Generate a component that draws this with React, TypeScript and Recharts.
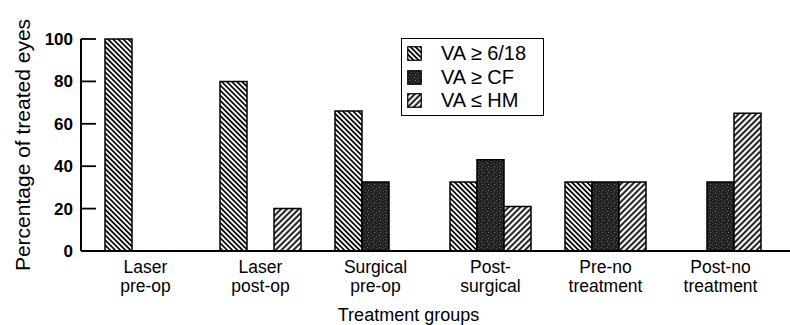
import { BarChart, Bar, XAxis, YAxis, Legend } from 'recharts';

const CATEGORIES = [
  'Laser\npre-op',
  'Laser\npost-op',
  'Surgical\npre-op',
  'Post-\nsurgical',
  'Pre-no\ntreatment',
  'Post-no\ntreatment',
];
const VA_GOOD = [100, 80, 66, 32.5, 32.5, null];
const VA_CF = [null, null, 32.5, 43, 32.5, 32.5];
const VA_HM = [null, 20, null, 21, 32.5, 65];
const Y_TICKS = [0, 20, 40, 60, 80, 100];

const SERIES = [
  { key: 'good', label: 'VA ≥ 6/18', fill: 'url(#hatchDown)' },
  { key: 'cf', label: 'VA ≥ CF', fill: 'url(#stipple)' },
  { key: 'hm', label: 'VA ≤ HM', fill: 'url(#hatchUp)' },
];

const data = CATEGORIES.map((name, i) => ({
  name,
  good: VA_GOOD[i],
  cf: VA_CF[i],
  hm: VA_HM[i],
}));

const FONT = '"Liberation Sans", Arial, Helvetica, sans-serif';

function Patterns() {
  return (
    <defs>
      <pattern id="hatchDown" patternUnits="userSpaceOnUse" width="3.6" height="3.6" patternTransform="rotate(-45)">
        <rect width="3.6" height="3.6" fill="#fff" />
        <line x1="1.8" y1="0" x2="1.8" y2="3.6" stroke="#000" strokeWidth="1.7" />
      </pattern>
      <pattern id="hatchUp" patternUnits="userSpaceOnUse" width="4.2" height="4.2" patternTransform="rotate(45)">
        <rect width="4.2" height="4.2" fill="#fff" />
        <line x1="2.1" y1="0" x2="2.1" y2="4.2" stroke="#000" strokeWidth="1.8" />
      </pattern>
      <pattern id="stipple" patternUnits="userSpaceOnUse" width="6" height="6">
        <rect width="6" height="6" fill="#222" />
        <rect x="1" y="1" width="1" height="1" fill="#6a6a6a" />
        <rect x="4" y="2" width="1" height="1" fill="#555" />
        <rect x="2" y="4" width="1" height="1" fill="#777" />
        <rect x="5" y="5" width="1" height="1" fill="#4a4a4a" />
      </pattern>
    </defs>
  );
}

// two-line category labels under the x axis
function CategoryTick({ x, y, payload }: any) {
  const lines = String(payload.value).split('\n');
  return (
    <g>
      {lines.map((l, i) => (
        <text
          key={i}
          x={x}
          y={y + 22 + i * 19}
          textAnchor="middle"
          fill="#000"
          fontSize={17.5}
          fontFamily={FONT}
        >
          {l}
        </text>
      ))}
    </g>
  );
}

function YTitle({ viewBox }: any) {
  const cx = viewBox.x + 22;
  const cy = viewBox.y + viewBox.height / 2;
  return (
    <text
      x={cx}
      y={cy}
      transform={`rotate(-90, ${cx}, ${cy})`}
      textAnchor="middle"
      dominantBaseline="central"
      fontSize={21}
      fontFamily={FONT}
      fill="#000"
    >
      Percentage of treated eyes
    </text>
  );
}

function XTitle({ viewBox }: any) {
  const cx = viewBox.x + viewBox.width / 2 - 27;
  return (
    <text x={cx} y={viewBox.y + 70} textAnchor="middle" fontSize={18} fontFamily={FONT} fill="#000">
      Treatment groups
    </text>
  );
}

function LegendBox() {
  return (
    <div
      style={{
        border: '1.5px solid #000',
        background: '#fff',
        width: 136,
        height: 73,
        padding: '3px 0 0 5px',
        fontFamily: FONT,
        fontSize: 20,
        color: '#000',
        boxSizing: 'content-box',
      }}
    >
      {SERIES.map((s) => (
        <div key={s.key} style={{ display: 'flex', alignItems: 'center', height: 23.5 }}>
          <svg width={15} height={15} style={{ marginRight: 19 }}>
            <rect x={0.75} y={0.75} width={13.5} height={13.5} fill={s.fill} stroke="#000" strokeWidth={1.2} />
          </svg>
          <span>{s.label}</span>
        </div>
      ))}
    </div>
  );
}

export default function App() {
  return (
    <div style={{ position: 'absolute', left: 0, top: 0, background: '#fff' }}>
      <BarChart
        width={790}
        height={325}
        data={data}
        margin={{ top: 39, right: 0, left: 0, bottom: 0 }}
        barGap={0}
        barSize={27}
      >
        <Patterns />
        <XAxis
          dataKey="name"
          height={74}
          axisLine={{ stroke: '#000', strokeWidth: 2 }}
          tickLine={false}
          tickSize={0}
          tickMargin={0}
          padding={{ left: 7, right: 12 }}
          tick={<CategoryTick />}
          interval={0}
          label={<XTitle />}
        />
        <YAxis
          width={81}
          domain={[0, 100]}
          ticks={Y_TICKS}
          axisLine={{ stroke: '#000', strokeWidth: 2 }}
          tickLine={{ stroke: '#000', strokeWidth: 1.8 }}
          tickSize={-15}
          tickMargin={23}
          tick={{ fill: '#000', fontSize: 17, fontWeight: 'bold', fontFamily: FONT }}
          label={<YTitle />}
        />
        <Legend
          layout="vertical"
          align="center"
          verticalAlign="middle"
          content={<LegendBox />}
          wrapperStyle={{ position: 'absolute', left: 401, top: 38, width: 'auto' }}
        />
        {SERIES.map((s) => (
          <Bar
            key={s.key}
            dataKey={s.key}
            name={s.label}
            fill={s.fill}
            stroke="#000"
            strokeWidth={1.5}
            isAnimationActive={false}
          />
        ))}
      </BarChart>
    </div>
  );
}
